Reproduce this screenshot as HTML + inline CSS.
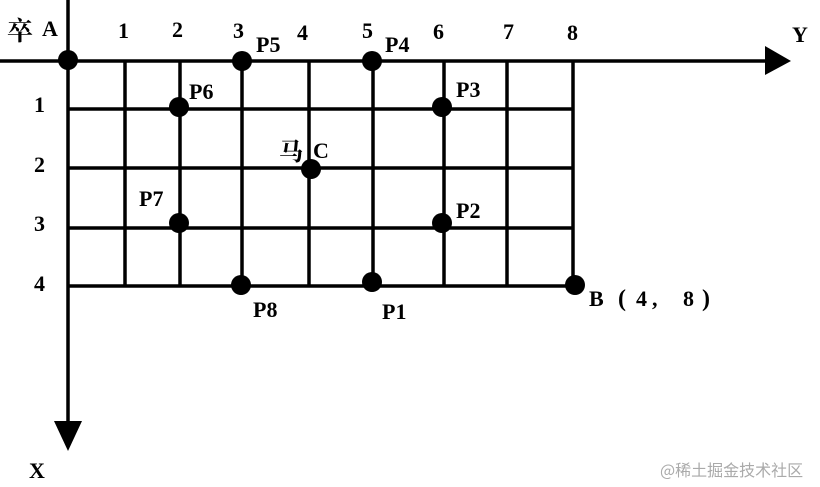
<!DOCTYPE html>
<html><head><meta charset="utf-8"><style>
html,body{margin:0;padding:0;background:#fff;}
svg{display:block}
text{font-family:"Liberation Serif","Noto Serif CJK SC",serif;font-weight:bold;font-size:22px;fill:#000}
</style></head><body>
<svg width="820" height="487" viewBox="0 0 820 487">
<g stroke="#000" stroke-width="3.5">
<line x1="0" y1="61" x2="770" y2="61"/>
<line x1="68" y1="0" x2="68" y2="425"/>
<line x1="68" y1="109" x2="573" y2="109"/>
<line x1="68" y1="168" x2="573" y2="168"/>
<line x1="68" y1="228" x2="573" y2="228"/>
<line x1="68" y1="286" x2="573" y2="286"/>
<line x1="125" y1="61" x2="125" y2="286"/>
<line x1="180" y1="61" x2="180" y2="286"/>
<line x1="242" y1="61" x2="242" y2="286"/>
<line x1="309" y1="61" x2="309" y2="286"/>
<line x1="373" y1="61" x2="373" y2="286"/>
<line x1="444" y1="61" x2="444" y2="286"/>
<line x1="507" y1="61" x2="507" y2="286"/>
<line x1="573" y1="61" x2="573" y2="286"/>
</g>
<polygon points="765,46 791,61 765,75" fill="#000"/>
<polygon points="54,421 82,421 68,451" fill="#000"/>
<g fill="#000">
<circle cx="68" cy="60" r="10"/>
<circle cx="242" cy="61" r="10"/>
<circle cx="372" cy="61" r="10"/>
<circle cx="179" cy="107" r="10"/>
<circle cx="442" cy="107" r="10"/>
<circle cx="311" cy="169" r="10"/>
<circle cx="179" cy="223" r="10"/>
<circle cx="442" cy="223" r="10"/>
<circle cx="241" cy="285" r="10"/>
<circle cx="372" cy="282" r="10"/>
<circle cx="575" cy="285" r="10"/>
</g>
<text x="7" y="40" style="font-size:26px">卒</text><text x="42" y="36">A</text>
<text x="118" y="38">1</text><text x="172" y="37">2</text><text x="233" y="38">3</text>
<text x="297" y="40">4</text><text x="362" y="38">5</text><text x="433" y="39">6</text>
<text x="503" y="39">7</text><text x="567" y="40">8</text>
<text x="792" y="42">Y</text>
<text x="256" y="52">P5</text><text x="385" y="52">P4</text>
<text x="34" y="112">1</text><text x="34" y="172">2</text><text x="34" y="231">3</text><text x="34" y="291">4</text>
<text x="189" y="99">P6</text><text x="456" y="97">P3</text>
<text x="279" y="160" style="font-size:24px">马</text><text x="313" y="158">C</text>
<text x="139" y="206">P7</text><text x="456" y="218">P2</text>
<text x="253" y="317">P8</text><text x="382" y="319">P1</text>
<text x="589" y="306">B</text><text x="618" y="306" style="font-size:24px">(</text><text x="636" y="306">4</text><text x="652" y="306">,</text><text x="683" y="306">8</text><text x="702" y="306" style="font-size:24px">)</text>
<text x="29" y="478">X</text>
<text x="660" y="476" style="font-family:'Noto Sans CJK SC',sans-serif;font-weight:normal;font-size:16px;fill:#aaa">@稀土掘金技术社区</text>
</svg>
</body></html>
